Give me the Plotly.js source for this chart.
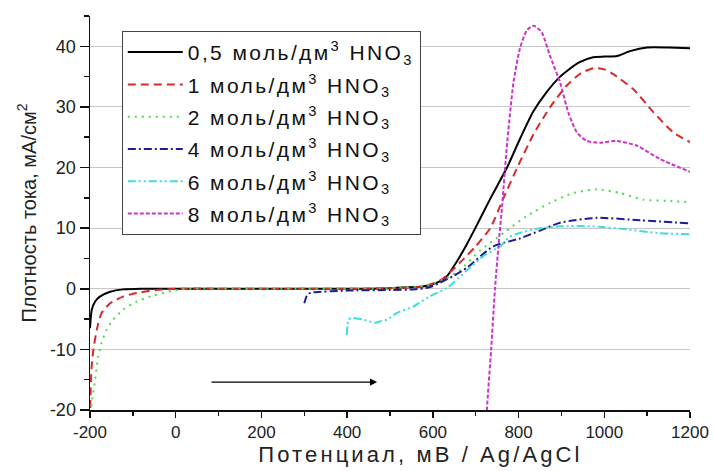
<!DOCTYPE html>
<html>
<head>
<meta charset="utf-8">
<script src="https://cdn.plot.ly/plotly-3.0.1.min.js"></script>
<style>
html,body{margin:0;padding:0;background:#fff;}
#chart{width:714px;height:471px;}
text.legendtext{letter-spacing:2.4px;}
g.annotation text.annotation-text{letter-spacing:3.1px;}
</style>
</head>
<body>
<div id="chart"></div>
<script>
// Series names
const seriesNames = [
  "0,5 моль/дм<sup>3</sup> HNO<sub>3</sub>",
  "1 моль/дм<sup>3</sup> HNO<sub>3</sub>",
  "2 моль/дм<sup>3</sup> HNO<sub>3</sub>",
  "4 моль/дм<sup>3</sup> HNO<sub>3</sub>",
  "6 моль/дм<sup>3</sup> HNO<sub>3</sub>",
  "8 моль/дм<sup>3</sup> HNO<sub>3</sub>"
];
const xTitle = "Потенциал, мВ / Ag/AgCl";
const yTitle = "Плотность тока, мА/см<sup>2</sup>";

// Tick values and labels (hyphen minus as in the original)
const xTickVals = [-200, 0, 200, 400, 600, 800, 1000, 1200];
const xTickText = ["-200", "0", "200", "400", "600", "800", "1000", "1200"];
const yTickVals = [-20, -10, 0, 10, 20, 30, 40];
const yTickText = ["-20", "-10", "0", "10", "20", "30", "40"];

// 0.5 mol/dm3
const x05 = [-200,-196,-188,-177,-153,-123,-80,0,200,400,500,580,610,632,656,679,699,735,773,805,834,865,897,940,974,1000,1030,1060,1100,1150,1200];
const y05 = [-6.5,-3.5,-2.1,-1.3,-0.5,-0.1,0,0,0,0,0.1,0.4,1.0,2.0,4.5,7.3,10,15,20,25,29.2,32.4,35,37.3,38.2,38.3,38.4,39.2,39.8,39.8,39.7];

// 1 mol/dm3
const x1 = [-200,-199,-196,-192,-184,-173,-153,-123,-91,-44,0,200,400,500,580,620,663,700,734,765,797,835,874,912,944,975,1000,1021,1068,1115,1161,1200];
const y1 = [-24,-17.8,-12.7,-10,-6.7,-4,-2.4,-1.3,-0.7,-0.2,0,0,0,0.1,0.4,1.5,4.3,7.0,10,15,20,25.5,30,33.5,35.5,36.4,36.2,35.4,32.9,29.1,25.8,24.2];

// 2 mol/dm3
const x2 = [-200,-198,-196,-188,-181,-173,-161,-146,-122,-91,-52,-5,30,200,400,500,580,624,663,710,765,819,874,928,983,1037,1091,1145,1200];
const y2 = [-24,-20,-18.8,-15,-11.2,-8.9,-6.7,-5.1,-3.4,-2.1,-1.1,-0.3,0,0,0,0.1,0.5,1.5,3.1,6.3,9.2,12,14.2,15.8,16.4,15.8,14.7,14.5,14.3];

// 4 mol/dm3
const x4 = [300,305,310,320,400,500,555,590,617,650,680,741,803,850,897,983,1084,1200];
const y4 = [-2.4,-1.3,-0.8,-0.6,-0.3,-0.2,-0.1,0.2,1.0,2.2,3.5,7.0,8.3,9.6,10.9,11.7,11.3,10.8];

// 6 mol/dm3
const x6 = [399,401,403,411,438,465,480,493,516,555,594,632,679,720,757,780,835,897,974,1053,1123,1200];
const y6 = [-7.6,-6,-5.1,-4.8,-5.1,-5.6,-5.3,-5.1,-4.0,-2.9,-1.2,0.1,3.0,5.5,7.0,8.6,9.8,10.3,10.3,9.8,9.2,9.0];

// 8 mol/dm3
const x8 = [722,726,736,745,753,762,772,788,803,819,835,854,873,897,916,936,959,990,1029,1076,1130,1200];
const y8 = [-26,-20,-10,0,7,14,23,34,39.6,42.6,43.4,42.3,38.5,34,29.1,25.8,24.4,24.1,24.4,23.6,21.4,19.3];

const xs = [x05,x1,x2,x4,x6,x8];
const ys = [y05,y1,y2,y4,y6,y8];
const colors = ["#000000","#d42a2a","#4fd94f","#1c1c96","#3fdcdc","#cc33cc"];
const dashes = ["solid","8px,5px","2px,5px","8px,3px,2px,3px","8px,3px,2px,3px,2px,3px","4px,2px"];

const traces = xs.map((x,i)=>({
  x: x, y: ys[i], type: "scatter", mode: "lines",
  name: seriesNames[i], legendgroup: "g"+i,
  line: {color: colors[i], width: 2, dash: dashes[i], shape: "spline", smoothing: 0.6}
}));

const font = "Liberation Sans, Arial, sans-serif";
const layout = {
  width: 714, height: 471,
  margin: {l: 90, r: 24, t: 16, b: 61},
  paper_bgcolor: "#fff", plot_bgcolor: "#fff",
  font: {family: font, color: "#222", size: 17},
  showlegend: true,
  legend: {
    x: 0.053, y: 0.962, xanchor: "left", yanchor: "top",
    bgcolor: "#fff", bordercolor: "#444", borderwidth: 1,
    font: {family: font, size: 21, color: "#111"},
    tracegroupgap: 2, itemwidth: 55
  },
  xaxis: {
    range: [-200, 1200], tickmode: "array", tickvals: xTickVals, ticktext: xTickText,
    showgrid: false, zeroline: false,
    showline: true, linecolor: "#111", linewidth: 1.5,
    ticks: "outside", ticklen: 6, tickcolor: "#111", tickwidth: 1.5,
    tickfont: {size: 17, family: font, color: "#222"},
    minor: {dtick: 100, tick0: -200, ticks: "outside", ticklen: 4, tickcolor: "#111", tickwidth: 1.5, showgrid: false}
  },
  yaxis: {
    range: [-20, 45], tickmode: "array", tickvals: yTickVals, ticktext: yTickText,
    showgrid: true, gridcolor: "#c8c8c8", gridwidth: 1,
    zeroline: false,
    showline: true, linecolor: "#111", linewidth: 1.5,
    ticks: "outside", ticklen: 9, tickcolor: "#111", tickwidth: 1.5,
    tickfont: {size: 18, family: font, color: "#222"},
    minor: {dtick: 5, tick0: -20, ticks: "outside", ticklen: 5, tickcolor: "#111", tickwidth: 1.5, showgrid: false},
    title: {text: yTitle, font: {size: 20, family: font, color: "#222"}, standoff: 8}
  },
  annotations: [{
    x: 470, y: -15.4, ax: 80, ay: -15.4, xref: "x", yref: "y", axref: "x", ayref: "y",
    text: "", showarrow: true, arrowhead: 2, arrowsize: 1.2, arrowwidth: 1.2, arrowcolor: "#000"
  }, {
    x: 0.55, y: -0.114, xref: "paper", yref: "paper", xanchor: "center", yanchor: "middle",
    text: xTitle, showarrow: false, font: {size: 22, family: font, color: "#222"}
  }]
};

Plotly.newPlot("chart", traces, layout, {displayModeBar: false, staticPlot: true});
</script>
</body>
</html>
